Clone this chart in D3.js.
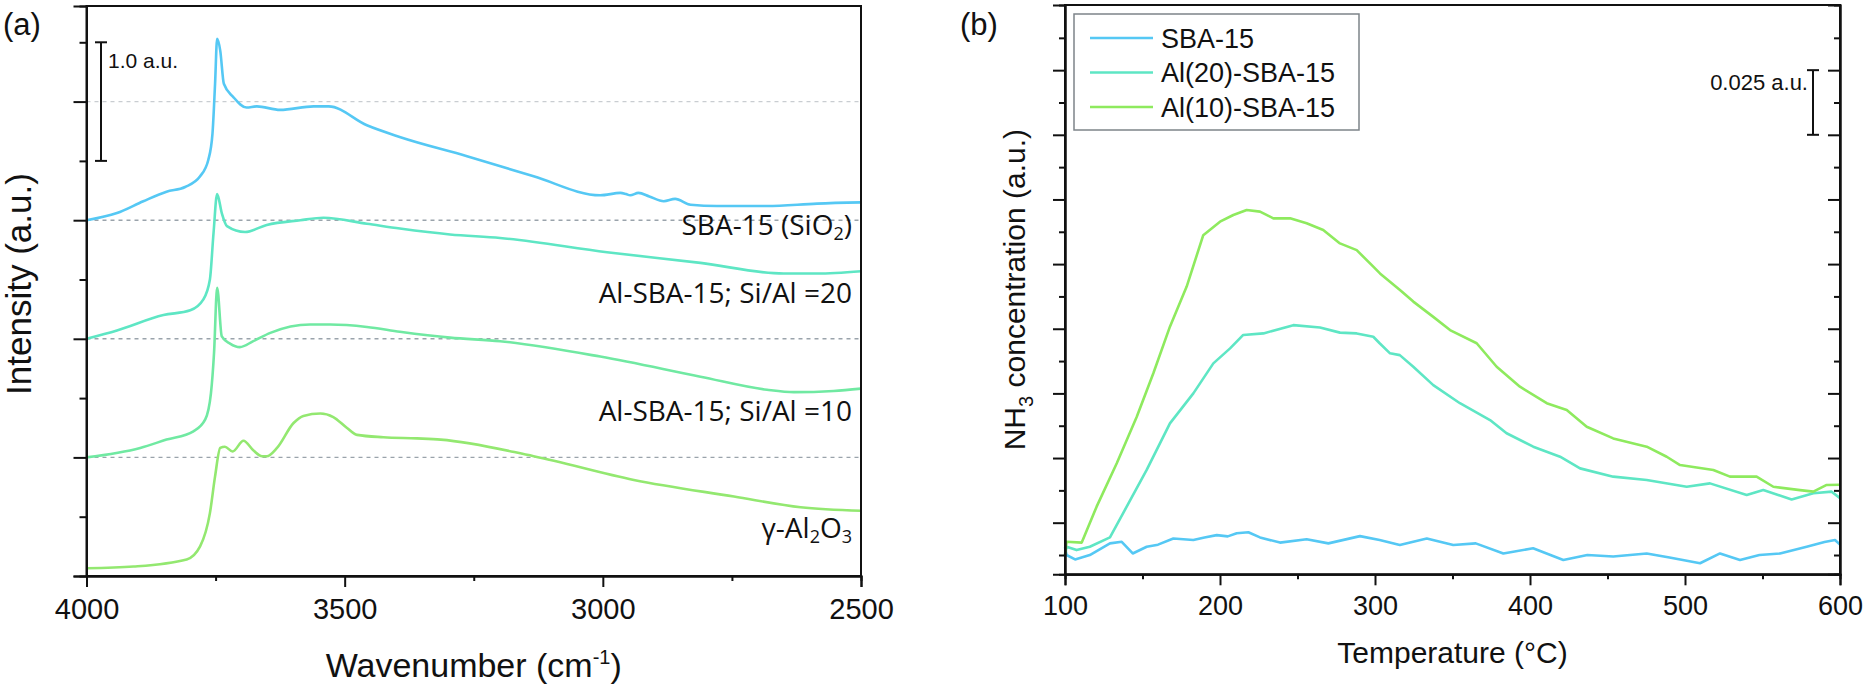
<!DOCTYPE html>
<html>
<head>
<meta charset="utf-8">
<script src="https://cdn.jsdelivr.net/npm/d3@7"></script>
<style>
  body { margin: 0; background: #fff; }
  text { font-family: "Liberation Sans", Arial, sans-serif; fill: #111; }
  .lbl { font-family: "Open Sans", "Liberation Sans", sans-serif; }
</style>
</head>
<body>
<script>
// Panel (a) FTIR spectra: [wavenumber, intensity]
//##############################################
var sba15IR = [[4000,3.0],[3941,3.06],[3890,3.16],[3845,3.24],[3809,3.28],[3780,3.37],[3764,3.51],[3756,3.73],[3751,4.15],[3747,4.53],[3741,4.43],[3734,4.15],[3716,4.04],[3690,3.95],[3670,3.96],[3625,3.93],[3560,3.96],[3531,3.96],[3457,3.80],[3392,3.70],[3263,3.54],[3134,3.37],[3005,3.21],[2966,3.23],[2955,3.22],[2947,3.21],[2931,3.23],[2910,3.20],[2882,3.16],[2860,3.18],[2830,3.13],[2779,3.12],[2682,3.12],[2585,3.14],[2500,3.15]];
var al20IR = [[4000,2.0],[3941,2.07],[3851,2.2],[3799,2.24],[3774,2.33],[3761,2.5],[3754,2.89],[3747,3.22],[3738,3.06],[3728,2.95],[3693,2.9],[3651,2.96],[3586,3.0],[3541,3.02],[3457,2.97],[3393,2.93],[3296,2.88],[3199,2.85],[2992,2.73],[2811,2.64],[2650,2.55],[2585,2.55],[2500,2.57]];
var al10IR = [[4000,1.0],[3896,1.08],[3845,1.15],[3793,1.22],[3770,1.32],[3759,1.54],[3753,1.88],[3747,2.43],[3738,2.02],[3722,1.96],[3703,1.93],[3677,1.98],[3644,2.05],[3567,2.12],[3528,2.12],[3457,2.10],[3393,2.06],[3296,2.01],[3199,1.98],[3005,1.85],[2811,1.68],[2682,1.57],[2630,1.55],[2553,1.56],[2500,1.58]];
var aluminaIR = [[4000,0.065],[3909,0.08],[3806,0.14],[3780,0.25],[3761,0.53],[3751,0.84],[3741,1.08],[3732,1.09],[3717,1.05],[3696,1.14],[3677,1.06],[3660,1.01],[3651,1.01],[3631,1.08],[3599,1.29],[3580,1.35],[3547,1.37],[3522,1.34],[3496,1.25],[3476,1.19],[3425,1.17],[3360,1.16],[3314,1.15],[3134,1.01],[2940,0.81],[2746,0.67],[2617,0.58],[2500,0.55]];
var irBaselines = [4, 3, 2, 1];
var irNames = ["SBA-15 (SiO|2|)", "Al-SBA-15; Si/Al =20", "Al-SBA-15; Si/Al =10", "γ-Al|2|O|3|"];
var irLabelY = [2.875, 2.3, 1.307, 0.32];
var wnTicks = [4000, 3500, 3000, 2500];
var wnMinor = [3750, 3250, 2750];

// Panel (b) NH3-TPD: [temperature, concentration]
//##############################################
var sba15TPD = [[100,0.003],[101,0.0],[106.5,-0.0017],[116,0],[129,0.0045],[136.6,0.0051],[143.7,0.0006],[152.7,0.0032],[160,0.004],[169.9,0.0064],[182.8,0.0058],[190,0.0068],[197.9,0.0077],[205,0.0072],[210.8,0.0084],[218.3,0.0088],[225.8,0.0068],[238.7,0.0048],[255.9,0.0061],[269.9,0.0045],[290.3,0.0073],[303,0.0058],[316,0.0039],[333.4,0.0064],[350.5,0.0039],[365,0.0045],[382.8,0.0006],[402,0.0026],[421.5,-0.0019],[437,0.0],[453.7,-0.0006],[475.3,0.0006],[490,-0.001],[509.7,-0.0032],[522.6,0.0006],[535.5,-0.0019],[548,0.0],[561.3,0.0006],[578.5,0.0032],[590,0.005],[596.8,0.0058],[600,0.004]];
var al20TPD = [[100,0.0],[101,0.0032],[107.5,0.0019],[116,0.0032],[129,0.0068],[139.8,0.0187],[152.7,0.0329],[167.7,0.0509],[182.8,0.0625],[195.7,0.0741],[206.5,0.0799],[215,0.0851],[228,0.0857],[247.3,0.0889],[264.5,0.088],[277.4,0.086],[288.2,0.0857],[298.9,0.0844],[303,0.0819],[309.7,0.078],[316,0.0773],[324.7,0.0728],[337.6,0.0657],[354.8,0.0587],[374.2,0.0522],[384.9,0.0471],[402.1,0.0419],[419.4,0.038],[432.3,0.0335],[453.7,0.0303],[475.3,0.029],[501.1,0.0264],[516.1,0.0277],[539.8,0.0232],[550.5,0.0251],[568.8,0.0215],[582.8,0.0239],[594.6,0.0245],[600,0.022]];
var al10TPD = [[100,0.0],[101,0.0051],[110.8,0.0048],[120.4,0.0187],[133.4,0.0355],[146.3,0.0535],[157,0.0703],[167.7,0.0883],[178.5,0.1038],[189.2,0.1237],[200,0.1289],[208.6,0.1315],[217.2,0.1334],[225.8,0.1328],[234.4,0.1302],[245.2,0.1302],[255.9,0.1283],[266.6,0.1257],[277.4,0.1205],[288.2,0.1179],[298.9,0.1115],[303.2,0.1089],[316.1,0.1025],[324.7,0.098],[337.6,0.0921],[348.4,0.087],[365.6,0.0819],[378.5,0.0728],[393.5,0.0651],[410.8,0.0587],[423.7,0.0561],[436.6,0.0496],[453.7,0.0451],[475.3,0.0419],[488.2,0.038],[496.8,0.0348],[518.3,0.0329],[529,0.0303],[546.2,0.0303],[557,0.0264],[574.2,0.0251],[582.8,0.0245],[591.4,0.0271],[600,0.0272]];
var tpdNames = ["SBA-15", "Al(20)-SBA-15", "Al(10)-SBA-15"];
var tempTicks = [100, 200, 300, 400, 500, 600];
var tempMinor = [150, 250, 350, 450, 550];

var blue = "#55c8f4", teal = "#5ee6c4", mint = "#70e9a2", green = "#93e870", lime = "#8eea5e";

var svg = d3.select("body").append("svg")
  .attr("width", 1867)
  .attr("height", 690);

// Panel (a)
//##############################################
var xA = d3.scaleLinear().domain([4000, 2500]).range([86.5, 861]);
var yA = d3.scaleLinear().domain([0, 4.806]).range([576, 6]);

var gA = svg.append("g");

// dashed baselines
gA.selectAll(".base")
  .data(irBaselines)
  .enter()
  .append("line")
  .attr("x1", xA(4000)).attr("x2", xA(2500))
  .attr("y1", function(d) { return yA(d); })
  .attr("y2", function(d) { return yA(d); })
  .attr("stroke", function(d) { return d === 4 ? "#c9cdd1" : "#9aa3ab"; })
  .attr("stroke-width", 1.4)
  .attr("stroke-dasharray", "4,4");

var lineA = d3.line()
  .x(function(d) { return xA(d[0]); })
  .y(function(d) { return yA(d[1]); })
  .curve(d3.curveMonotoneX);

gA.selectAll(".ir")
  .data([sba15IR, al20IR, al10IR, aluminaIR])
  .enter()
  .append("path")
  .attr("d", lineA)
  .attr("fill", "none")
  .attr("stroke-width", 2.6)
  .attr("stroke", function(d, i) { return [blue, teal, mint, green][i]; });

// series labels with subscripts (marked with |..|)
irNames.forEach(function(name, i) {
  var t = gA.append("text")
    .attr("class", "lbl")
    .attr("x", 852)
    .attr("y", yA(irLabelY[i]))
    .attr("text-anchor", "end")
    .style("font-size", "28px");
  name.split("|").forEach(function(part, j) {
    if (!part) return;
    t.append("tspan")
      .attr("baseline-shift", j % 2 ? "-25%" : null)
      .style("font-size", j % 2 ? "18px" : null)
      .text(part);
  });
});

// frame
gA.append("rect")
  .attr("x", xA(4000)).attr("y", yA(4.806))
  .attr("width", xA(2500) - xA(4000))
  .attr("height", yA(0) - yA(4.806))
  .attr("fill", "none").attr("stroke", "#111").attr("stroke-width", 2);

var axA = gA.append("g")
  .attr("transform", "translate(0," + yA(0) + ")")
  .call(d3.axisBottom(xA).tickValues(wnTicks).tickSize(11).tickPadding(11).tickFormat(d3.format("d")));
gA.append("g")
  .attr("transform", "translate(0," + yA(0) + ")")
  .call(d3.axisBottom(xA).tickValues(wnMinor).tickSize(5).tickFormat(""));
axA.selectAll("text").style("font-size", "29px").attr("fill", "#111");

gA.append("g")
  .attr("transform", "translate(" + xA(4000) + ",0)")
  .call(d3.axisLeft(yA).tickValues([0, 1, 2, 3, 4]).tickSize(13).tickFormat(""));
gA.append("g")
  .attr("transform", "translate(" + xA(4000) + ",0)")
  .call(d3.axisLeft(yA).tickValues([0.5, 1.5, 2.5, 3.5, 4.5]).tickSize(7).tickFormat(""));

gA.selectAll(".domain, .tick line").attr("stroke", "#111").attr("stroke-width", 2);

// scale bar 1.0 a.u.
gA.append("line").attr("x1", 101).attr("x2", 101).attr("y1", yA(4.5)).attr("y2", yA(3.5))
  .attr("stroke", "#111").attr("stroke-width", 2);
[4.5, 3.5].forEach(function(v) {
  gA.append("line").attr("x1", 95).attr("x2", 107).attr("y1", yA(v)).attr("y2", yA(v))
    .attr("stroke", "#111").attr("stroke-width", 2);
});
gA.append("text").attr("x", 108).attr("y", 68).style("font-size", "21px").text("1.0 a.u.");

gA.append("text").attr("x", 3).attr("y", 35).style("font-size", "31px").text("(a)");

var xtA = gA.append("text").attr("x", (xA(4000) + xA(2500)) / 2).attr("y", 677)
  .attr("text-anchor", "middle").style("font-size", "34px");
xtA.append("tspan").text("Wavenumber (cm");
xtA.append("tspan").attr("dy", -13).style("font-size", "20px").text("-1");
xtA.append("tspan").attr("dy", 13).text(")");

gA.append("text")
  .attr("transform", "translate(31,284) rotate(-90)")
  .attr("text-anchor", "middle").style("font-size", "35px")
  .text("Intensity (a.u.)");

// Panel (b)
//##############################################
var xB = d3.scaleLinear().domain([100, 600]).range([1065, 1840]);
var yB = d3.scaleLinear().domain([-0.00746, 0.2127]).range([574.3, 5]);

var gB = svg.append("g");

var lineB = d3.line()
  .x(function(d) { return xB(d[0]); })
  .y(function(d) { return yB(d[1]); });

gB.selectAll(".tpd")
  .data([sba15TPD, al20TPD, al10TPD])
  .enter()
  .append("path")
  .attr("d", lineB)
  .attr("fill", "none")
  .attr("stroke-width", 2.6)
  .attr("stroke-linejoin", "round")
  .attr("stroke", function(d, i) { return [blue, teal, lime][i]; });

gB.append("rect")
  .attr("x", xB(100)).attr("y", yB(0.2127))
  .attr("width", xB(600) - xB(100))
  .attr("height", yB(-0.00746) - yB(0.2127))
  .attr("fill", "none").attr("stroke", "#111").attr("stroke-width", 2);

var majorB = d3.range(0, 8).map(function(i) { return 0.0125 + i * 0.025; });
var minorB = d3.range(0, 9).map(function(i) { return i * 0.025; });

var axB = gB.append("g")
  .attr("transform", "translate(0," + yB(-0.00746) + ")")
  .call(d3.axisBottom(xB).tickValues(tempTicks).tickSize(11).tickPadding(11));
gB.append("g")
  .attr("transform", "translate(0," + yB(-0.00746) + ")")
  .call(d3.axisBottom(xB).tickValues(tempMinor).tickSize(5).tickFormat(""));
axB.selectAll("text").style("font-size", "27px").attr("fill", "#111");

// left axis ticks point out, right axis ticks point in
[[xB(100), 12, 6], [xB(600), 12, 6]].forEach(function(a) {
  gB.append("g")
    .attr("transform", "translate(" + a[0] + ",0)")
    .call(d3.axisLeft(yB).tickValues(majorB).tickSize(a[1]).tickFormat(""));
  gB.append("g")
    .attr("transform", "translate(" + a[0] + ",0)")
    .call(d3.axisLeft(yB).tickValues(minorB).tickSize(a[2]).tickFormat(""));
});
gB.selectAll(".domain, .tick line").attr("stroke", "#111").attr("stroke-width", 2);

// legend
var leg = gB.append("g");
leg.append("rect").attr("x", 1074).attr("y", 14).attr("width", 285).attr("height", 116)
  .attr("fill", "#fff").attr("stroke", "#7d8489").attr("stroke-width", 1.5);
var legItems = leg.selectAll(".li")
  .data(tpdNames)
  .enter()
  .append("g")
  .attr("transform", function(d, i) { return "translate(0," + (38 + i * 34.5) + ")"; });
legItems.append("line").attr("x1", 1090).attr("x2", 1153)
  .attr("stroke-width", 2.6)
  .attr("stroke", function(d, i) { return [blue, teal, lime][i]; });
legItems.append("text").attr("x", 1161).attr("dy", "0.36em")
  .style("font-size", "27px").text(function(d) { return d; });

// scale bar 0.025 a.u.
gB.append("line").attr("x1", 1813).attr("x2", 1813).attr("y1", yB(0.1875)).attr("y2", yB(0.1625))
  .attr("stroke", "#111").attr("stroke-width", 2);
[0.1875, 0.1625].forEach(function(v) {
  gB.append("line").attr("x1", 1807).attr("x2", 1819).attr("y1", yB(v)).attr("y2", yB(v))
    .attr("stroke", "#111").attr("stroke-width", 2);
});
gB.append("text").attr("x", 1808).attr("y", 90).attr("text-anchor", "end")
  .style("font-size", "22px").text("0.025 a.u.");

gB.append("text").attr("x", 960).attr("y", 35).style("font-size", "31px").text("(b)");

gB.append("text").attr("x", (xB(100) + xB(600)) / 2).attr("y", 663)
  .attr("text-anchor", "middle").style("font-size", "30px").text("Temperature (°C)");

var ytB = gB.append("text")
  .attr("transform", "translate(1025," + (yB(-0.00746) + yB(0.2127)) / 2 + ") rotate(-90)")
  .attr("text-anchor", "middle").style("font-size", "30px");
ytB.append("tspan").text("NH");
ytB.append("tspan").attr("dy", 8).style("font-size", "20px").text("3");
ytB.append("tspan").attr("dy", -8).text(" concentration (a.u.)");
</script>
</body>
</html>
